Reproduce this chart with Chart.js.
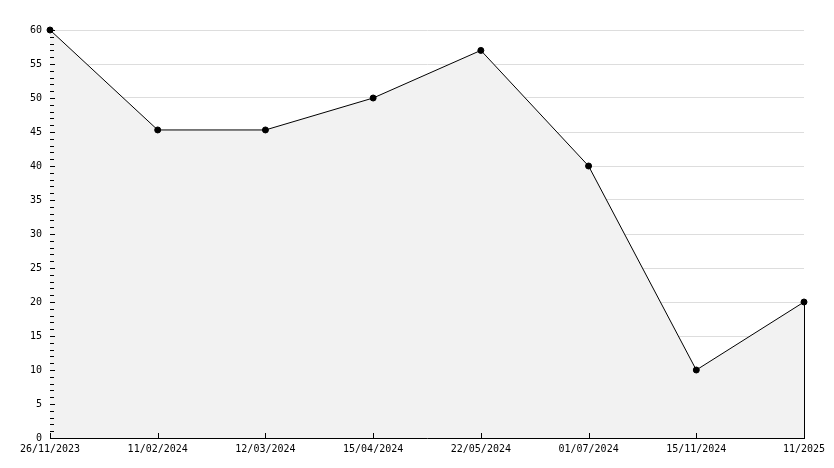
<!DOCTYPE html>
<html>
<head>
<meta charset="utf-8">
<script src="https://cdn.jsdelivr.net/npm/chart.js@4/dist/chart.umd.min.js"></script>
<style>
  html, body { margin: 0; padding: 0; background: #fff; }
  #wrap { width: 834px; height: 468px; }
</style>
</head>
<body>
<div id="wrap"><canvas id="chart"></canvas></div>
<script>
// values
const dateLabels = ['26/11/2023', '11/02/2024', '12/03/2024', '15/04/2024', '22/05/2024', '01/07/2024', '15/11/2024', '11/2025'];
const seriesValues = [60, 45.3, 45.3, 50, 57, 40, 10, 20];
const yMax = 60;
const yStep = 5;

const FONT = { family: '"DejaVu Sans Mono", monospace', size: 10 };

// inward tick marks + closing edge of the filled area
const axisTicks = {
    id: 'axisTicks',
    beforeDatasetsDraw(chart) {
        const { ctx, chartArea, scales } = chart;
        const x = scales.x, y = scales.y;
        ctx.save();
        ctx.strokeStyle = '#000';
        ctx.lineWidth = 1;
        ctx.beginPath();
        const last = seriesValues.length - 1;
        const lx = Math.round(x.getPixelForValue(last)) + 0.5;
        ctx.moveTo(lx, y.getPixelForValue(seriesValues[last]));
        ctx.lineTo(lx, y.getPixelForValue(0));
        ctx.stroke();
        ctx.restore();
    },
    afterDatasetsDraw(chart) {
        const { ctx, chartArea, scales } = chart;
        const x = scales.x, y = scales.y;
        ctx.save();
        ctx.strokeStyle = '#000';
        ctx.lineWidth = 1;
        ctx.beginPath();
        for (let v = 0; v <= yMax; v++) {
            const py = Math.round(y.getPixelForValue(v)) + 0.5;
            const len = v % yStep === 0 ? 5 : 4;
            ctx.moveTo(chartArea.left, py);
            ctx.lineTo(chartArea.left + len, py);
        }
        dateLabels.forEach((_, i) => {
            const px = Math.round(x.getPixelForValue(i)) + 0.5;
            ctx.moveTo(px, chartArea.bottom);
            ctx.lineTo(px, chartArea.bottom - 5);
        });
        const last = seriesValues.length - 1;
        const lx = Math.round(x.getPixelForValue(last)) + 0.5;
        ctx.moveTo(lx, y.getPixelForValue(seriesValues[last]));
        ctx.lineTo(lx, y.getPixelForValue(0));
        ctx.stroke();
        ctx.restore();
    },
};

new Chart(document.getElementById('chart'), {
    type: 'line',
    data: {
        labels: dateLabels,
        datasets: [{
            data: seriesValues,
            borderColor: '#000',
            borderWidth: 1,
            backgroundColor: '#f2f2f2',
            fill: 'origin',
            tension: 0,
            clip: false,
            pointRadius: 3,
            pointStyle: 'circle',
            pointBackgroundColor: '#000',
            pointBorderColor: '#000',
            pointBorderWidth: 1,
        }],
    },
    options: {
        responsive: true,
        maintainAspectRatio: false,
        animation: false,
        layout: { padding: { top: 30, right: 30, left: 0, bottom: 0 } },
        plugins: { legend: { display: false }, tooltip: { enabled: false } },
        scales: {
            x: {
                type: 'category',
                offset: false,
                grid: { display: false, drawTicks: false },
                border: { display: true, color: '#000', width: 1 },
                ticks: { color: '#000', font: FONT, padding: 5, maxRotation: 0, autoSkip: false },
                afterFit(scale) { scale.height = 30; },
            },
            y: {
                min: 0,
                max: yMax,
                grid: { color: '#dddddd', drawTicks: false },
                border: { display: true, color: '#000', width: 1 },
                ticks: { stepSize: yStep, color: '#000', font: FONT, padding: 8 },
                afterFit(scale) { scale.width = 50; },
            },
        },
    },
    plugins: [axisTicks],
});
</script>
</body>
</html>
